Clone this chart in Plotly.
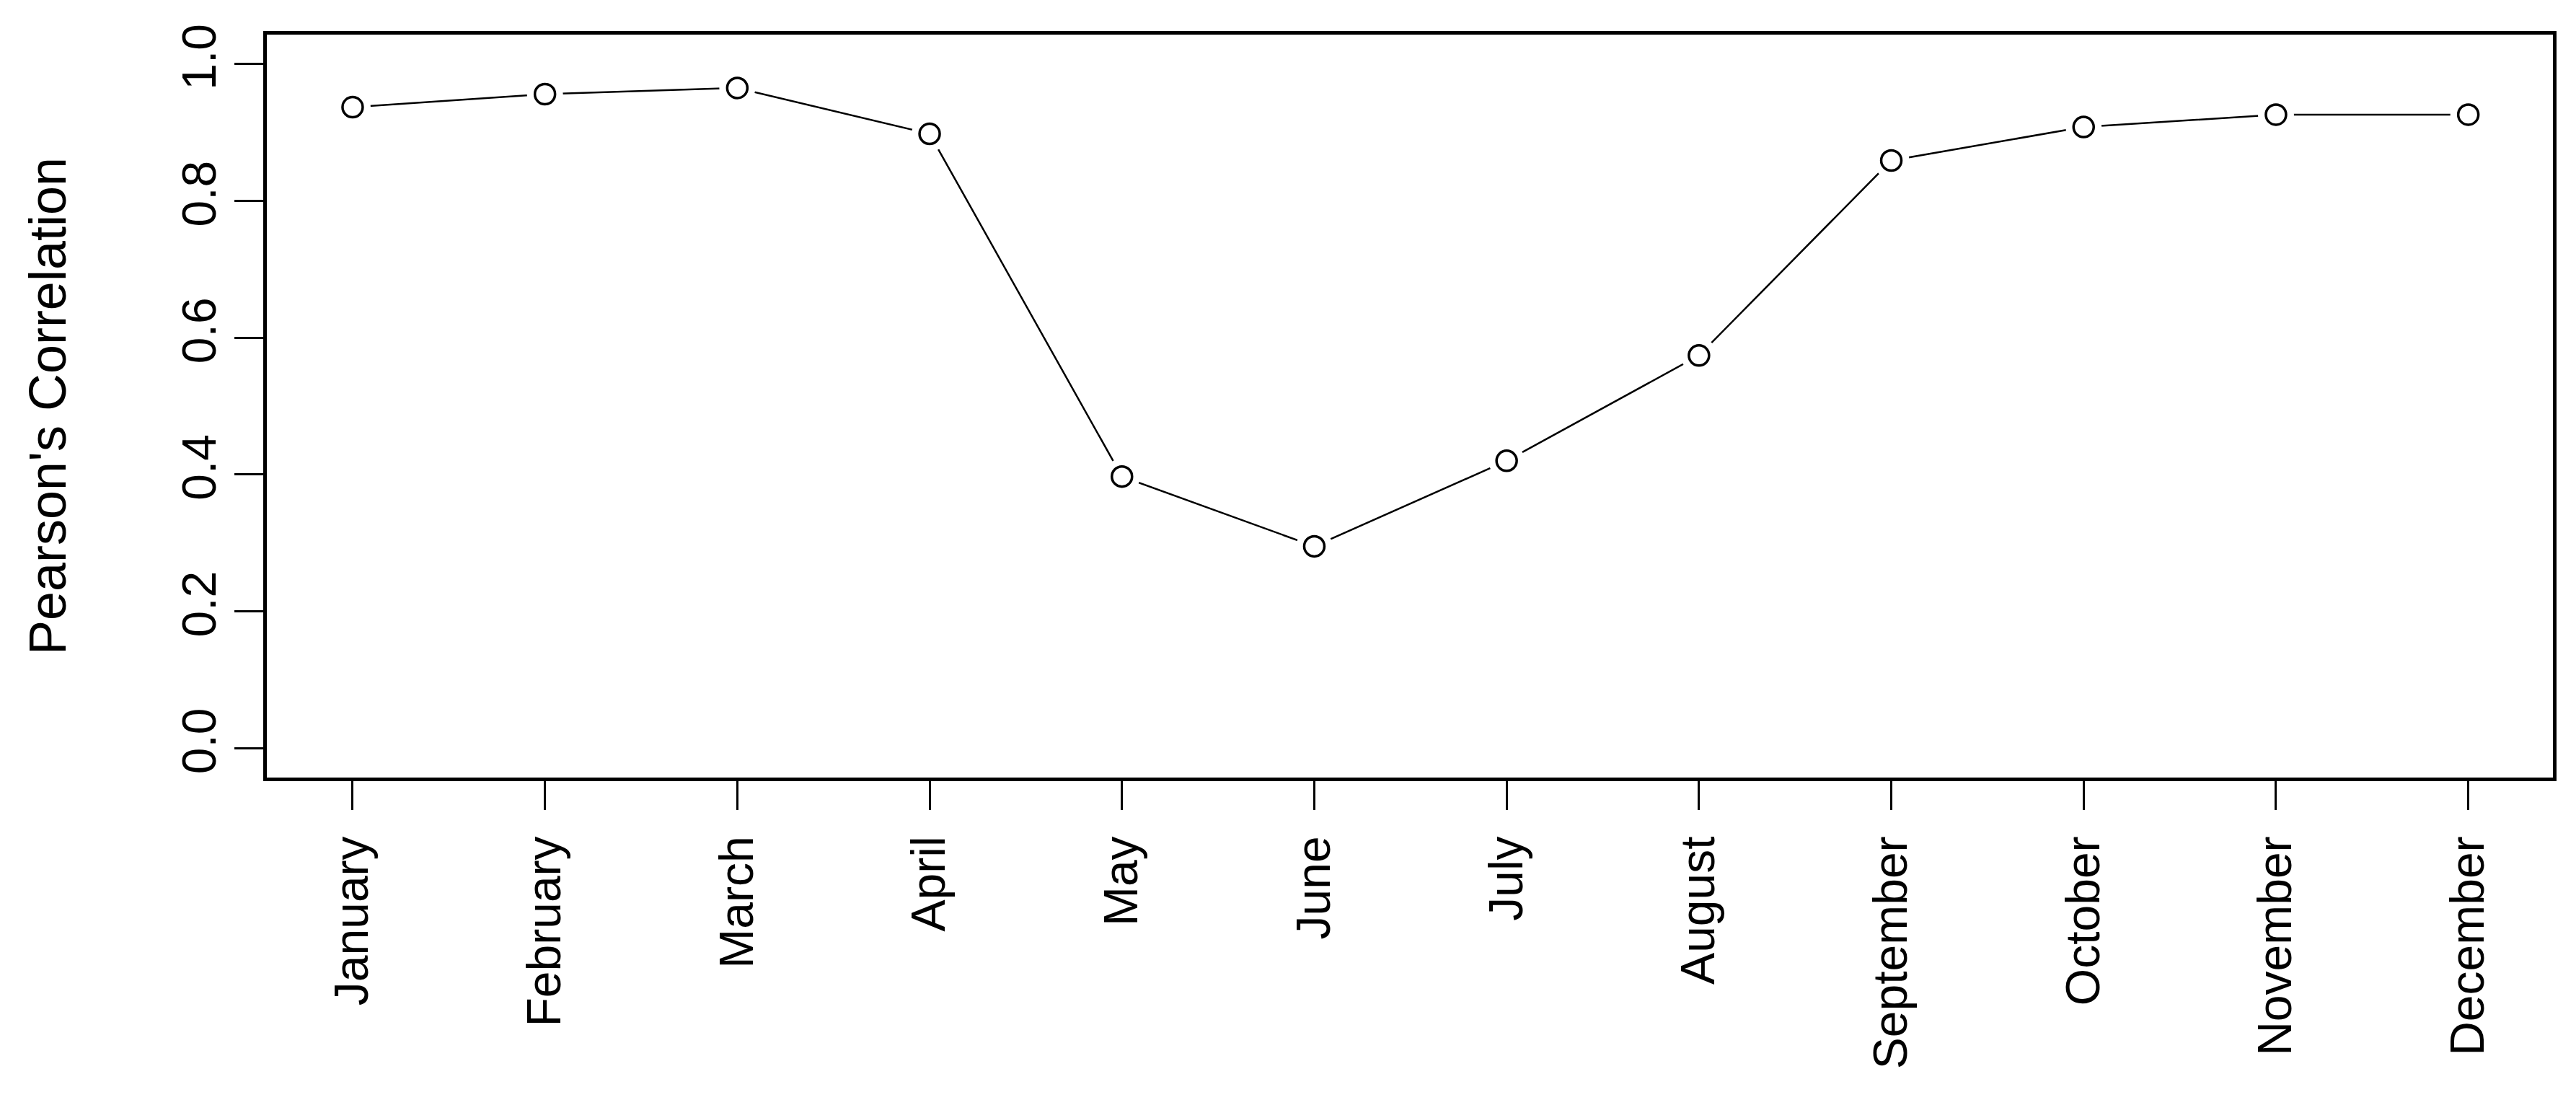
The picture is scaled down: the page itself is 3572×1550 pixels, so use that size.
import plotly.graph_objects as go

months = ["January","February","March","April","May","June","July","August","September","October","November","December"]
corr = [0.937, 0.956, 0.965, 0.898, 0.397, 0.295, 0.420, 0.574, 0.859, 0.908, 0.926, 0.926]
y_ticks = [0.0, 0.2, 0.4, 0.6, 0.8, 1.0]

fig = go.Figure()
fig.add_trace(go.Scatter(x=months, y=corr, mode="lines", line=dict(color="black", width=2.5), hoverinfo="skip"))
fig.add_trace(go.Scatter(x=months, y=corr, mode="markers",
                         marker=dict(symbol="circle", size=50, color="white", line=dict(width=0)), hoverinfo="skip"))
fig.add_trace(go.Scatter(x=months, y=corr, mode="markers",
                         marker=dict(symbol="circle-open", size=28, color="black", line=dict(width=3.5))))

font = dict(family="Liberation Sans, Arial", size=66, color="black")
fig.update_layout(
    width=3572, height=1550, showlegend=False,
    paper_bgcolor="white", plot_bgcolor="white",
    margin=dict(l=362, r=40, t=40, b=480),
    font=font,
    xaxis=dict(range=[-0.446, 11.44], tickangle=-90, ticks="outside", ticklen=40, tickwidth=3,
               tickcolor="black", showgrid=False, zeroline=False, showline=True, mirror=True,
               linecolor="black", linewidth=5, tickfont=font, ticklabelstandoff=10),
    yaxis=dict(range=[-0.043, 1.043], tickvals=y_ticks, ticktext=[f"{v:.1f}" for v in y_ticks],
               tickangle=-90, ticks="outside", ticklen=40, tickwidth=3, tickcolor="black",
               showgrid=False, zeroline=False, showline=True, mirror=True, linecolor="black", linewidth=5,
               tickfont=font, title=dict(text="Pearson's Correlation", font=dict(family="Liberation Sans, Arial", size=72), standoff=125)),
)
fig.write_html("out.html")
